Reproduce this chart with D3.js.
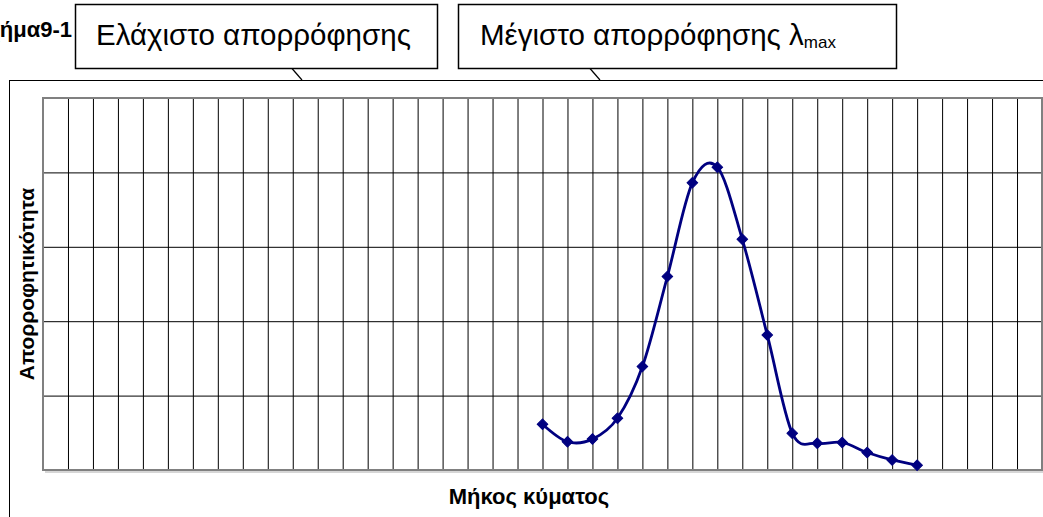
<!DOCTYPE html>
<html>
<head>
<meta charset="utf-8">
<script src="https://cdn.jsdelivr.net/npm/d3@7"></script>
<style>
  html, body { margin: 0; padding: 0; background: #fff; }
  svg { display: block; font-family: "Liberation Sans", Arial, sans-serif; }
</style>
</head>
<body>
<svg id="chart" width="1043" height="517"></svg>
<script>
// Category positions along the wavelength axis (unlabelled in the figure)
const categories = [1, 2, 3, 4, 5, 6, 7, 8, 9, 10, 11, 12, 13, 14, 15, 16, 17, 18, 19, 20,
                    21, 22, 23, 24, 25, 26, 27, 28, 29, 30, 31, 32, 33, 34, 35, 36, 37, 38, 39, 40, 41];

// Measured absorbance; null where no measurement was taken
const absorbance = [null, null, null, null, null, null, null, null, null, null,
                    null, null, null, null, null, null, null, null, null, null,
                    0.123, 0.076, 0.083, 0.139, 0.278, 0.520, 0.772, 0.814, 0.620, 0.363,
                    0.099, 0.072, 0.074, 0.047, 0.027, 0.013,
                    null, null, null, null, null];

// Value-axis gridline positions (no labels shown)
const yTicks = [0, 0.2, 0.4, 0.6, 0.8, 1.0];

// Texts
const figureTitle = "Σχήμα9-1";
const xTitle = "Μήκος κύματος";
const yTitle = "Απορροφητικότητα";
const minCallout = "Ελάχιστο απορρόφησης";
const maxCallout = "Μέγιστο απορρόφησης λ";
const maxSub = "max";

const svg = d3.select("#chart");

const plot = { left: 43, top: 98, right: 1042, bottom: 470 };

const x = d3.scalePoint().domain(categories).range([plot.left, plot.right]).padding(0);
const y = d3.scaleLinear().domain([0, 1]).range([plot.bottom, plot.top]);

// Outer chart area frame
svg.append("rect")
  .attr("x", 9.5).attr("y", 80.5)
  .attr("width", 1100).attr("height", 600)
  .attr("fill", "#fff").attr("stroke", "#000").attr("stroke-width", 1);

// Plot area background
svg.append("rect")
  .attr("x", plot.left).attr("y", plot.top)
  .attr("width", plot.right - plot.left).attr("height", plot.bottom - plot.top)
  .attr("fill", "#fff");

// Vertical gridlines at every category
const gx = svg.append("g")
  .attr("transform", `translate(0,${plot.bottom})`)
  .call(d3.axisBottom(x).tickSize(-(plot.bottom - plot.top)).tickFormat(""));
gx.select(".domain").remove();
gx.selectAll(".tick line").attr("stroke", "#000").attr("stroke-width", 1);

// Horizontal gridlines
const gy = svg.append("g")
  .attr("transform", `translate(${plot.left},0)`)
  .call(d3.axisLeft(y).tickValues(yTicks).tickSize(-(plot.right - plot.left)).tickFormat(""));
gy.select(".domain").remove();
gy.selectAll(".tick line").attr("stroke", "#000").attr("stroke-width", 1);

// Plot area border with a soft shadow underneath
svg.append("line")
  .attr("x1", plot.left + 2).attr("x2", plot.right + 2)
  .attr("y1", plot.bottom + 2).attr("y2", plot.bottom + 2)
  .attr("stroke", "#c8c8c8").attr("stroke-width", 1.5);
svg.append("rect")
  .attr("x", plot.left).attr("y", plot.top)
  .attr("width", plot.right - plot.left).attr("height", plot.bottom - plot.top)
  .attr("fill", "none").attr("stroke", "#808080").attr("stroke-width", 2);

// Smoothed absorbance curve
const points = categories.map((c, i) => ({ c, v: absorbance[i] })).filter(d => d.v != null);

const line = d3.line()
  .x(d => x(d.c))
  .y(d => y(d.v))
  .curve(d3.curveCardinal.tension(0));

svg.append("path")
  .datum(points)
  .attr("d", line)
  .attr("fill", "none")
  .attr("stroke", "#000080")
  .attr("stroke-width", 2.8)
  .attr("stroke-linejoin", "round");

// Diamond markers
const diamond = d3.symbol(d3.symbolSquare, 56);
svg.append("g").selectAll("path")
  .data(points)
  .join("path")
  .attr("d", diamond)
  .attr("transform", d => `translate(${x(d.c)},${y(d.v)}) rotate(45)`)
  .attr("fill", "#000080")
  .attr("stroke", "#000080")
  .attr("stroke-width", 1);

// Axis titles
svg.append("text")
  .attr("x", 529).attr("y", 504)
  .attr("text-anchor", "middle")
  .attr("font-weight", "bold")
  .attr("font-size", 22)
  .attr("fill", "#000")
  .text(xTitle);

svg.append("text")
  .attr("transform", `translate(34,${(plot.top + plot.bottom) / 2}) rotate(-90)`)
  .attr("text-anchor", "middle")
  .attr("font-weight", "bold")
  .attr("font-size", 21)
  .attr("fill", "#000")
  .text(yTitle);

// Figure title (partly hidden behind the first callout)
svg.append("text")
  .attr("x", -26).attr("y", 37)
  .attr("font-weight", "bold")
  .attr("font-size", 22)
  .attr("fill", "#000")
  .text(figureTitle);

// Callouts with leader lines
function callout(bx, by, bw, bh, tx, lx1, lx2) {
  svg.append("line")
    .attr("x1", lx1).attr("y1", by + bh)
    .attr("x2", lx2).attr("y2", 80)
    .attr("stroke", "#000").attr("stroke-width", 1.2);
  svg.append("rect")
    .attr("x", bx).attr("y", by)
    .attr("width", bw).attr("height", bh)
    .attr("fill", "#fff").attr("stroke", "#000").attr("stroke-width", 1.5);
  return svg.append("text")
    .attr("x", tx).attr("y", by + 40)
    .attr("font-size", 29.5)
    .attr("fill", "#000");
}

callout(75.5, 4.5, 362, 64, 96, 292, 302).text(minCallout);

const t2 = callout(458.5, 4.5, 438, 64, 480, 590, 600);
t2.append("tspan").text(maxCallout);
t2.append("tspan").attr("font-size", 17).attr("dy", 3).text(maxSub);
</script>
</body>
</html>
